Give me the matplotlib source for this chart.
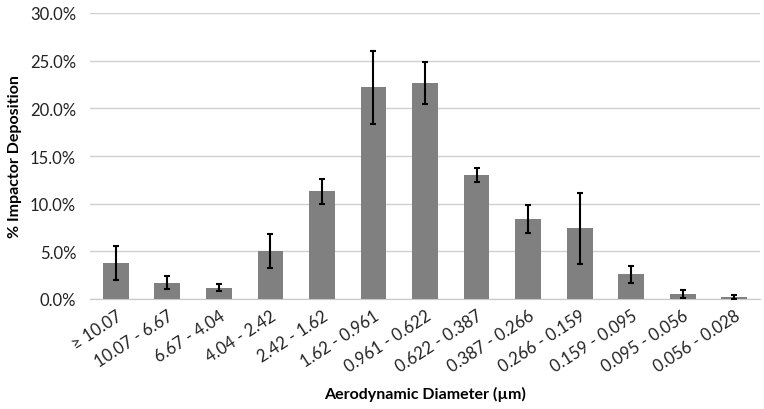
import matplotlib
matplotlib.use("Agg")
import matplotlib.pyplot as plt
from matplotlib.ticker import PercentFormatter

categories = ["\u2265 10.07", "10.07 - 6.67", "6.67 - 4.04", "4.04 - 2.42", "2.42 - 1.62",
              "1.62 - 0.961", "0.961 - 0.622", "0.622 - 0.387", "0.387 - 0.266",
              "0.266 - 0.159", "0.159 - 0.095", "0.095 - 0.056", "0.056 - 0.028"]
deposition = [3.8, 1.7, 1.2, 5.0, 11.3, 22.2, 22.7, 13.0, 8.4, 7.4, 2.6, 0.55, 0.2]
errors = [1.8, 0.7, 0.4, 1.8, 1.3, 3.8, 2.2, 0.7, 1.5, 3.7, 0.9, 0.4, 0.2]

plt.rcParams["font.family"] = ["Lato", "DejaVu Sans"]

fig = plt.figure(figsize=(7.64, 4.10), dpi=100)
ax = fig.add_axes([90 / 764, 1 - 300 / 410, 670 / 764, 286 / 410])

x = range(len(categories))
ax.bar(x, deposition, width=0.5, color="#808080", zorder=2)
ax.errorbar(x, deposition, yerr=errors, fmt="none", ecolor="black",
            elinewidth=1.5, capsize=2, capthick=1.5, zorder=3)

ax.set_xlim(-0.5, len(categories) - 0.5)
ax.set_ylim(0, 30)
ax.set_yticks([0, 5, 10, 15, 20, 25, 30])
ax.yaxis.set_major_formatter(PercentFormatter(decimals=1))
ax.grid(axis="y", color="#d0d0d0", linewidth=1, zorder=0)
ax.set_axisbelow(True)

for side in ["top", "right", "left"]:
    ax.spines[side].set_visible(False)
ax.spines["bottom"].set_color("#c8c8c8")
ax.tick_params(axis="both", length=0, labelsize=12, colors="#222222")
ax.tick_params(axis="y", pad=10)
ax.tick_params(axis="x", pad=6)

ax.set_xticks(list(x))
ax.set_xticklabels(categories, rotation=33, ha="right", rotation_mode="anchor")

ax.set_ylabel("% Impactor Deposition", fontsize=11.5, fontweight="bold", labelpad=6)
ax.set_xlabel("Aerodynamic Diameter (\u00b5m)", fontsize=11.5, fontweight="bold", labelpad=8)

fig.savefig("out.png", dpi=100)
